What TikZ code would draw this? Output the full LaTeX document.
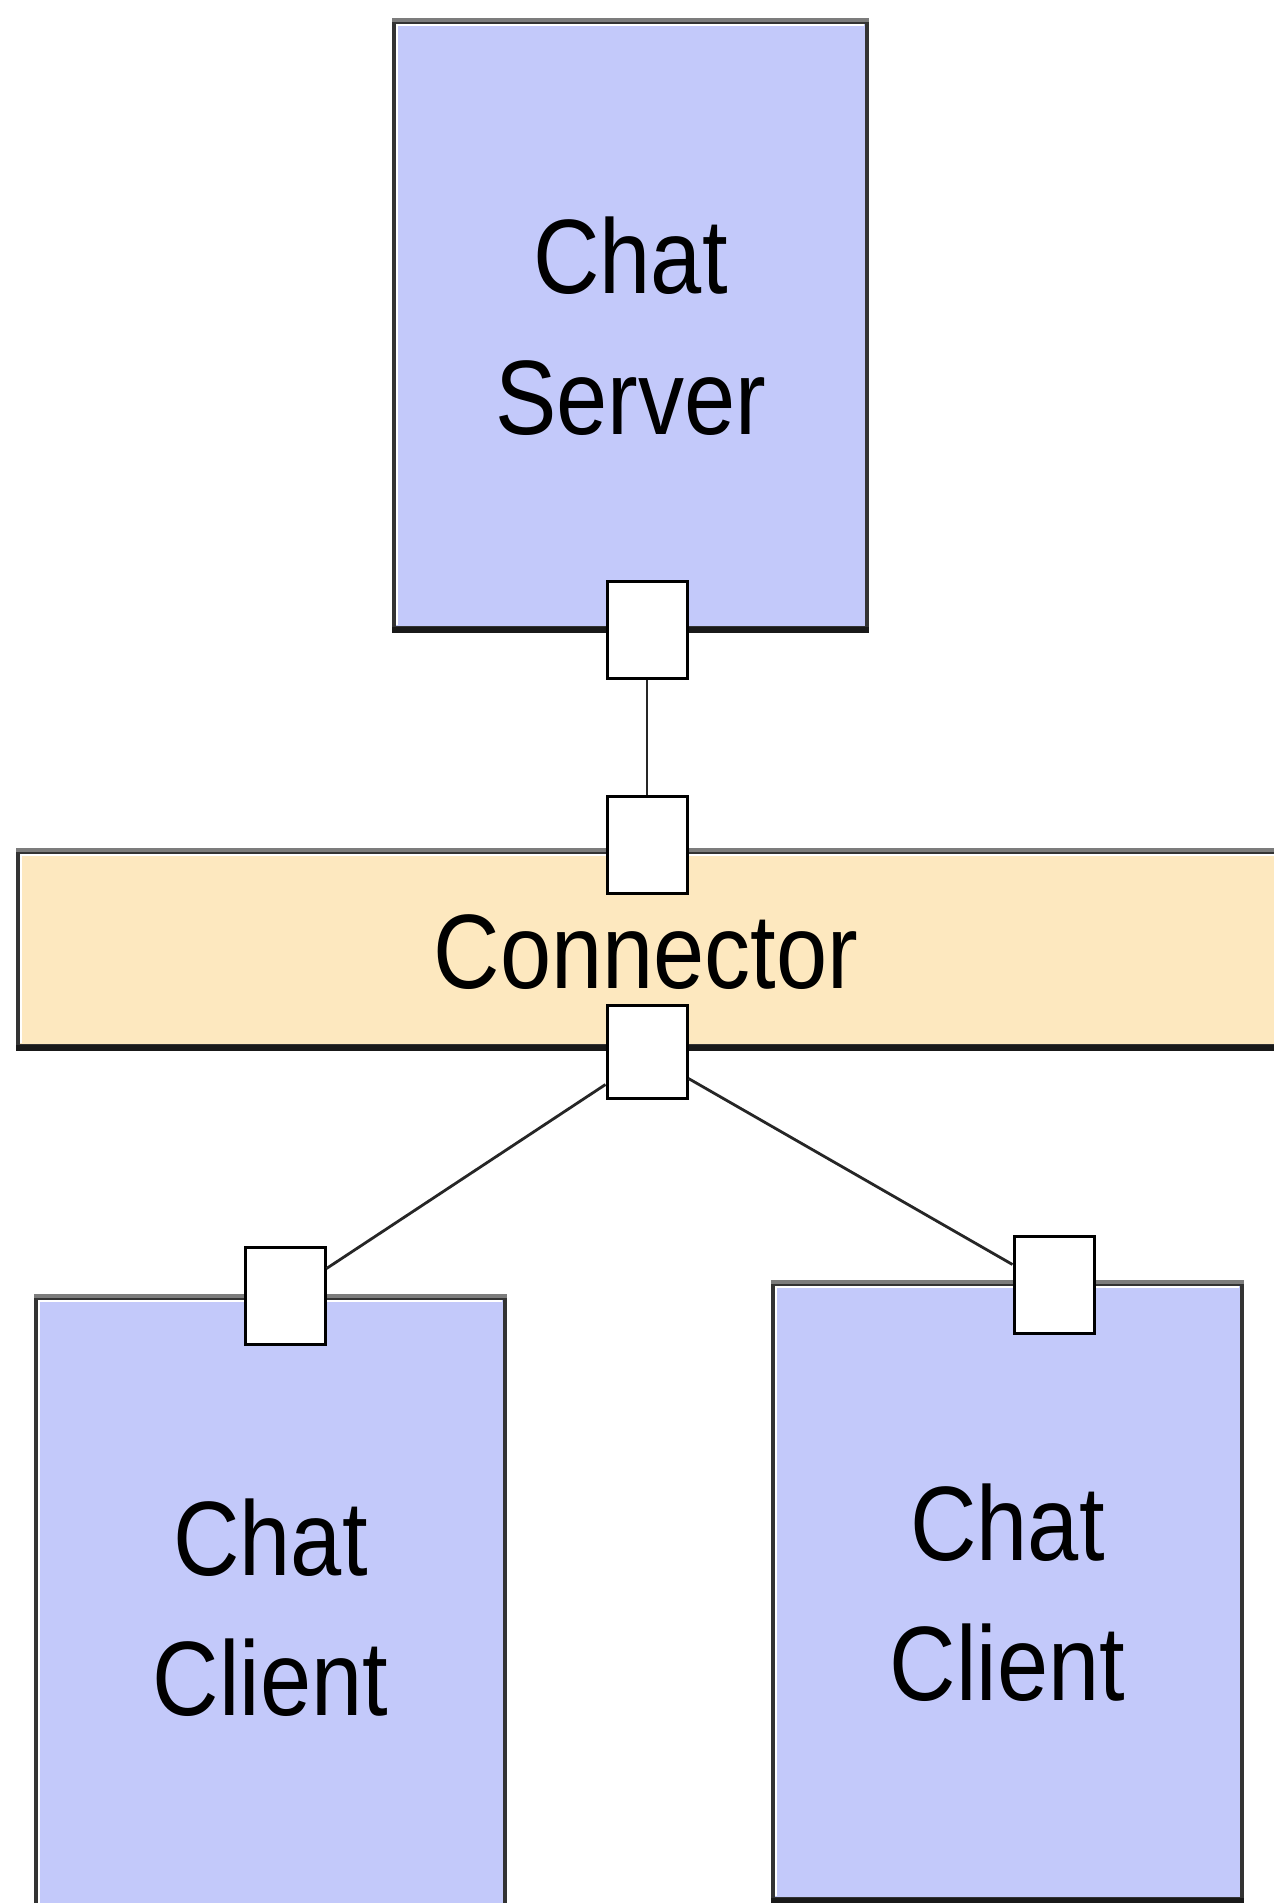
\documentclass[tikz,border=0pt]{standalone}
\usepackage{graphicx}
\usepackage{fontspec}
\setmainfont{Liberation Sans}
\usetikzlibrary{calc}

\definecolor{compfill}{HTML}{C3C9FA}
\definecolor{connfill}{HTML}{FDE8BF}
\definecolor{edgegray}{HTML}{7C7C7C}

% two-line label, slightly tall sans-serif lettering
\newcommand{\labeltext}[1]{\scalebox{1}[1.15]{\fontsize{46}{61}\selectfont\begin{tabular}{@{}c@{}}#1\end{tabular}}}

% bevelled outline: grey top, heavy dark bottom, white inner highlight
\newcommand{\bevelbox}[1]{%
  \draw[edgegray, line width=2pt] (#1.north west) -- (#1.north east);
  \draw[black!90, line width=3pt] (#1.south west) -- (#1.south east);
  \draw[white, line width=1.2pt]
    ($(#1.south west)+(5,-5)$) -- ($(#1.north west)+(5,5)$) -- ($(#1.north east)+(-5,5)$);
}

\begin{document}
\begin{tikzpicture}[x=0.5pt, y=-0.5pt,
  comp/.style={draw=black!80, line width=1.9pt, fill=compfill, inner sep=0pt},
  conn/.style={draw=black!80, line width=1.9pt, fill=connfill, inner sep=0pt},
  label/.style={inner sep=0pt, yshift=-5.5pt},
  port/.style={draw=black, line width=1.5pt, fill=white, inner sep=0pt,
               minimum width=40pt, minimum height=48.5pt},
  wire/.style={draw=black!85, line width=1.4pt}]

\useasboundingbox (0,0) rectangle (1274,1903);
\clip (0,0) rectangle (1274,1903);
\fill[white] (0,0) rectangle (1274,1903);

% components
\node[comp, minimum width=236.5pt, minimum height=303pt] (server) at (630.5,325) {};
\bevelbox{server}
\node[label] (serverlabel) at (server.center) {\labeltext{Chat\\Server}};

\node[conn, minimum width=636pt, minimum height=97pt] (conn) at (654,949) {};
\bevelbox{conn}
\node[label] (connlabel) at (646,949) {\labeltext{Connector}};

\node[comp, minimum width=234.5pt, minimum height=308.5pt] (clientL) at (270.5,1606.5) {};
\bevelbox{clientL}
\node[label] (clientLlabel) at (clientL.center) {\labeltext{Chat\\Client}};

\node[comp, minimum width=234.5pt, minimum height=307.5pt] (clientR) at (1007.5,1591.5) {};
\bevelbox{clientR}
\node[label] (clientRlabel) at (clientR.center) {\labeltext{Chat\\Client}};

% ports
\node[port] (sp) at (647,629.5) {};
\node[port] (ct) at (647,844.5) {};
\node[port, minimum height=46.5pt] (cb) at (647,1051.5) {};
\node[port] (lp) at (285,1295.5) {};
\node[port] (rp) at (1054,1284.5) {};

% links between ports
\draw[wire] (sp.south) -- (ct.north);
\draw[wire] ($(cb.south west)+(0,-15)$) -- ($(lp.north east)+(0,23)$);
\draw[wire] ($(cb.south east)+(0,-21)$) -- ($(rp.north west)+(0,30)$);

\end{tikzpicture}
\end{document}
